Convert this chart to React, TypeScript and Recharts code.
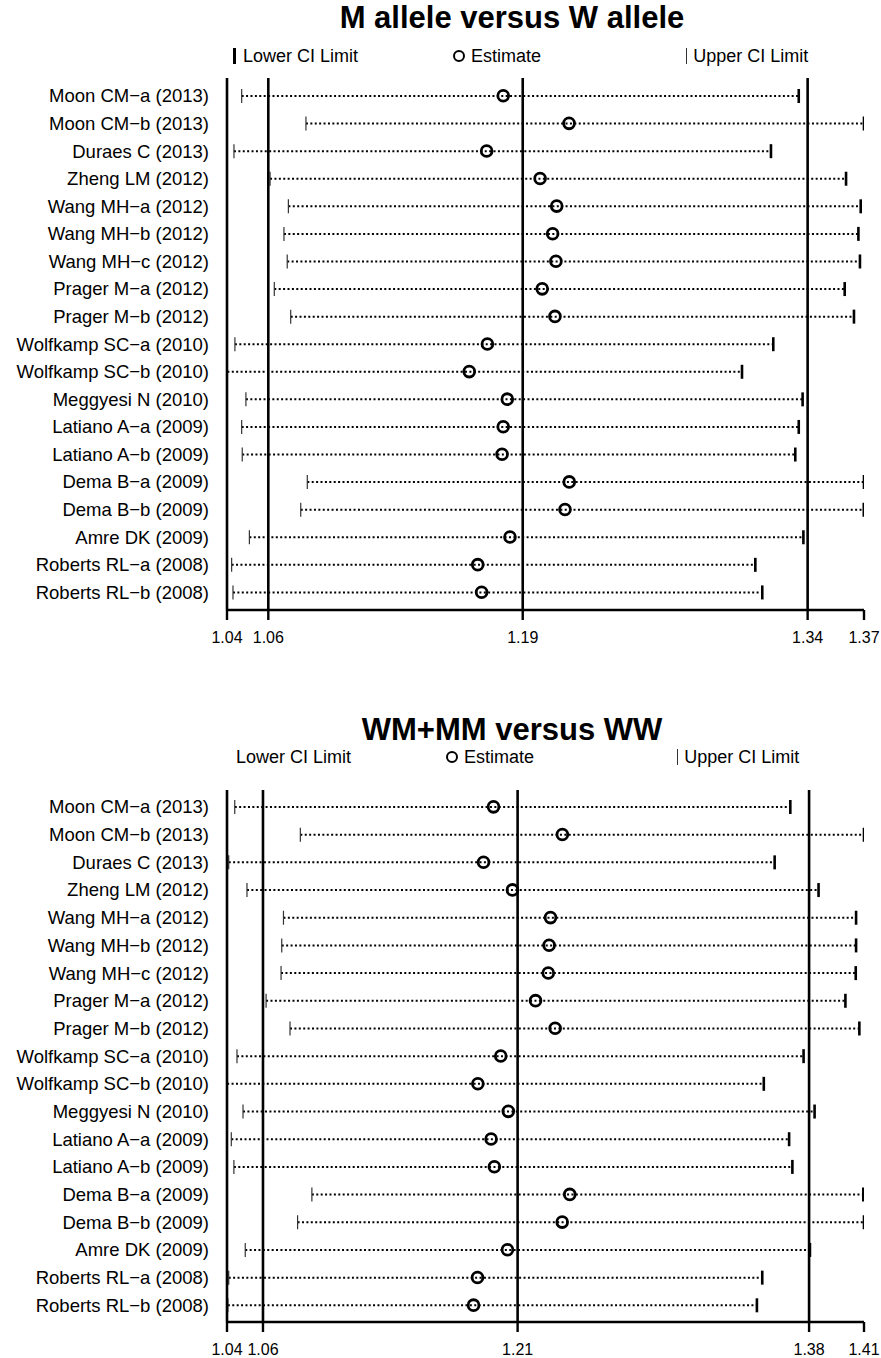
import { ComposedChart, Bar, Line, XAxis, YAxis, ReferenceLine } from 'recharts'

const FONT = "'Liberation Sans', Arial, Helvetica, sans-serif"

const STUDIES = [
  'Moon CM−a (2013)', 'Moon CM−b (2013)', 'Duraes C (2013)', 'Zheng LM (2012)',
  'Wang MH−a (2012)', 'Wang MH−b (2012)', 'Wang MH−c (2012)', 'Prager M−a (2012)',
  'Prager M−b (2012)', 'Wolfkamp SC−a (2010)', 'Wolfkamp SC−b (2010)', 'Meggyesi N (2010)',
  'Latiano A−a (2009)', 'Latiano A−b (2009)', 'Dema B−a (2009)', 'Dema B−b (2009)',
  'Amre DK (2009)', 'Roberts RL−a (2008)', 'Roberts RL−b (2008)',
]

// M allele versus W allele
const ALLELE_LOWER = [1.0476, 1.0809, 1.0436, 1.0623, 1.0718, 1.0695, 1.0712, 1.0645, 1.0730, 1.0441, 1.0402, 1.0498, 1.0476, 1.0479, 1.0816, 1.0782, 1.0516, 1.0424, 1.0431]
const ALLELE_EST = [1.1831, 1.2172, 1.1745, 1.2022, 1.2108, 1.2087, 1.2104, 1.2033, 1.2099, 1.1749, 1.1655, 1.1852, 1.1831, 1.1825, 1.2173, 1.2151, 1.1866, 1.1699, 1.1719]
const ALLELE_UPPER = [1.3362, 1.3700, 1.3218, 1.3607, 1.3683, 1.3671, 1.3679, 1.3600, 1.3648, 1.3230, 1.3068, 1.3382, 1.3362, 1.3344, 1.3700, 1.3699, 1.3386, 1.3137, 1.3173]
const ALLELE_OVERALL = [1.0614, 1.1932, 1.3408]
const ALLELE_TICKS = [1.04, 1.0614, 1.1932, 1.3408, 1.37]

// WM+MM versus WW
const DOM_LOWER = [1.0445, 1.0826, 1.0410, 1.0516, 1.0728, 1.0718, 1.0714, 1.0627, 1.0766, 1.0458, 1.0401, 1.0493, 1.0425, 1.0440, 1.0893, 1.0810, 1.0506, 1.0410, 1.0405]
const DOM_EST = [1.1948, 1.2348, 1.1890, 1.2058, 1.2279, 1.2271, 1.2266, 1.2192, 1.2306, 1.1990, 1.1857, 1.2034, 1.1934, 1.1953, 1.2391, 1.2347, 1.2029, 1.1855, 1.1832]
const DOM_UPPER = [1.3672, 1.4100, 1.3581, 1.3836, 1.4054, 1.4054, 1.4052, 1.3992, 1.4073, 1.3749, 1.3518, 1.3813, 1.3665, 1.3684, 1.4096, 1.4100, 1.3786, 1.3509, 1.3478]
const DOM_OVERALL = [1.0609, 1.2088, 1.3781]
const DOM_TICKS = [1.04, 1.0609, 1.2088, 1.3781, 1.41]

// dotted CI line with a thin lower tick and a heavy upper tick
function CIShape(props: any) {
  const { x, y, width, height } = props
  const cy = y + height / 2
  return (
    <g>
      <line x1={x} x2={x + width} y1={cy} y2={cy} stroke="#000" strokeWidth={2} strokeDasharray="2 2.4" />
      <line x1={x} x2={x} y1={y} y2={y + height} stroke="#333" strokeWidth={1.2} />
      <line x1={x + width} x2={x + width} y1={y} y2={y + height} stroke="#000" strokeWidth={2.6} />
    </g>
  )
}

function Panel({ top, title, lower, est, upper, overall, ticks, pad, legendTop, legendX, lowerMark }: any) {
  const data = STUDIES.map((study, i) => ({ study, range: [lower[i], upper[i]], est: est[i] }))
  const textStyle = { position: 'absolute' as const, fontFamily: FONT, fontSize: 18, whiteSpace: 'nowrap' as const, lineHeight: '20px' }
  return (
    <div style={{ position: 'absolute', left: 0, top, width: 881 }}>
      <div style={{ position: 'absolute', left: 0, top: 0, width: 1024, textAlign: 'center', fontFamily: FONT, fontWeight: 'bold', fontSize: 31, lineHeight: '36px' }}>
        {title}
      </div>
      <div style={{ ...textStyle, top: legendTop - 10, left: legendX[0] }}>
        {lowerMark && <span style={{ display: 'inline-block', width: 3, height: 16, background: '#000', marginRight: 7, verticalAlign: -2 }} />}
        Lower CI Limit
      </div>
      <div style={{ ...textStyle, top: legendTop - 10, left: legendX[1] }}>
        <span style={{ display: 'inline-block', width: 8, height: 8, border: '2.6px solid #000', borderRadius: '50%', marginRight: 6, verticalAlign: 0 }} />
        Estimate
      </div>
      <div style={{ ...textStyle, top: legendTop - 10, left: legendX[2] }}>
        <span style={{ display: 'inline-block', width: 1.2, height: 16, background: '#333', marginRight: 6, verticalAlign: -2 }} />
        Upper CI Limit
      </div>
      <ComposedChart
        width={881}
        height={660}
        data={data}
        layout="vertical"
        margin={{ top: 78, right: 17, bottom: 0, left: 0 }}
      >
        <XAxis
          type="number"
          domain={[ticks[0], ticks[ticks.length - 1]]}
          ticks={ticks}
          allowDataOverflow
          height={50}
          tickSize={10}
          tickMargin={12}
          axisLine={{ stroke: '#000', strokeWidth: 2.4 }}
          tickLine={{ stroke: '#000', strokeWidth: 2.4 }}
          tick={{ fill: '#000', fontSize: 16, fontFamily: FONT }}
          tickFormatter={(v: number) => v.toFixed(2)}
        />
        <YAxis
          type="category"
          dataKey="study"
          width={227}
          padding={{ top: pad, bottom: pad }}
          tickSize={0}
          tickMargin={18}
          tickLine={false}
          axisLine={{ stroke: '#000', strokeWidth: 2.6 }}
          tick={{ fill: '#000', fontSize: 18.5, fontFamily: FONT }}
        />
        {overall.map((v: number) => (
          <ReferenceLine key={v} x={v} stroke="#000" strokeWidth={2.6} />
        ))}
        <Bar dataKey="range" barSize={14} shape={(p: any) => <CIShape {...p} />} isAnimationActive={false} />
        <Line
          dataKey="est"
          stroke="none"
          dot={{ r: 5.4, stroke: '#000', strokeWidth: 2.8, fill: 'none' }}
          activeDot={false}
          isAnimationActive={false}
        />
      </ComposedChart>
    </div>
  )
}

export default function App() {
  return (
    <div style={{ position: 'relative', width: 881, height: 1358, background: '#fff' }}>
      <style>{'body{margin:0}'}</style>
      <Panel
        top={0}
        title="M allele versus W allele"
        lower={ALLELE_LOWER}
        est={ALLELE_EST}
        upper={ALLELE_UPPER}
        overall={ALLELE_OVERALL}
        ticks={ALLELE_TICKS}
        pad={4}
        legendTop={56}
        legendX={[233, 453, 686]}
        lowerMark
      />
      <Panel
        top={712}
        title="WM+MM versus WW"
        lower={DOM_LOWER}
        est={DOM_EST}
        upper={DOM_UPPER}
        overall={DOM_OVERALL}
        ticks={DOM_TICKS}
        pad={3}
        legendTop={45}
        legendX={[236, 446, 677]}
        lowerMark={false}
      />
    </div>
  )
}
